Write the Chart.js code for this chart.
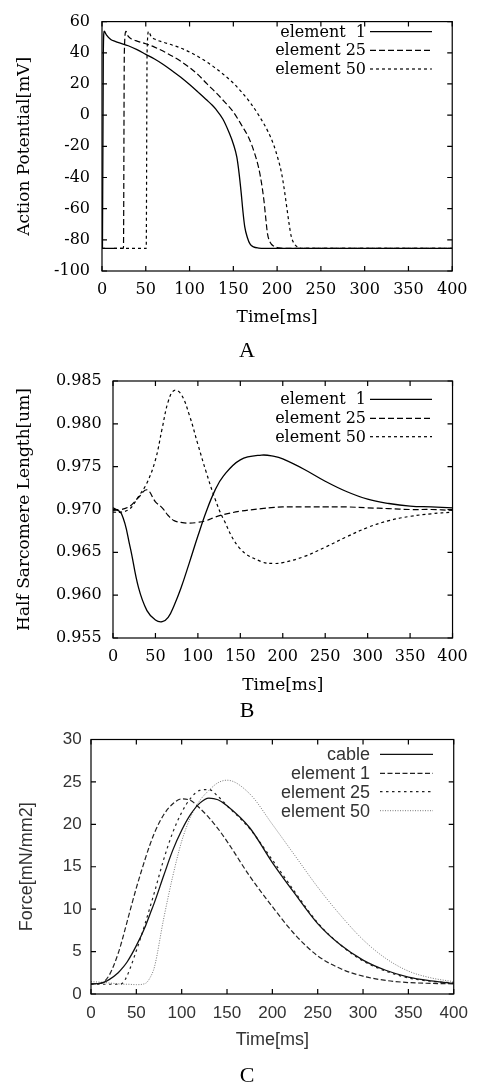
<!DOCTYPE html>
<html>
<head>
<meta charset="utf-8">
<title>Action potential, half sarcomere length and force</title>
<script src="https://cdn.jsdelivr.net/npm/chart.js@4.4.0/dist/chart.umd.min.js"></script>
<style>
  html, body { margin: 0; padding: 0; background: #fff; }
  #page { position: relative; width: 477px; height: 1087px; overflow: hidden; background: #fff; }
  #page canvas { position: absolute; left: 0; }
  .tag { position: absolute; font-family: "Liberation Serif", serif; font-size: 22px; color: #000;
         transform: translate(-50%, -50%); line-height: 1; }
</style>
</head>
<body>
<div id="page">
  <canvas id="chartA" width="477" height="335" style="top:0px"></canvas>
  <canvas id="chartB" width="477" height="340" style="top:360px"></canvas>
  <canvas id="chartC" width="477" height="340" style="top:720px"></canvas>
  <div class="tag" style="left:247px;top:350px">A</div>
  <div class="tag" style="left:247px;top:710px">B</div>
  <div class="tag" style="left:247px;top:1075px">C</div>
</div>
<script>
// Panel A - action potential [mV]
const tA1 = [0, 0.5, 1.5, 2.5, 5, 10, 15, 20, 30, 40, 50, 60, 70, 80, 90, 100, 110, 120, 126, 130, 138, 145, 150, 154, 156.5, 159, 161, 163, 166, 169, 173, 179, 186, 400];
const vA1 = [-85.5, -85.5, 40, 53.8, 51.5, 48.5, 47.3, 46.3, 44.5, 42, 39, 36, 32.5, 28.5, 24.3, 19.6, 14.6, 9.5, 6.3, 3.8, -2.5, -11, -18.5, -27, -37, -50, -62, -71.5, -78.5, -82.6, -84.5, -85.3, -85.5, -85.5];
const tA25 = [0, 24.5, 25.5, 27.3, 30, 34, 40, 50, 60, 75, 90, 100, 110, 120, 130, 140, 150, 160, 168, 174, 179, 182, 185, 187, 189, 192, 196, 202, 210, 400];
const vA25 = [-85.5, -85.5, 40, 53.8, 50.5, 48.8, 47.5, 45.8, 43.6, 39.5, 34.5, 30.5, 25.8, 20, 14.5, 8.5, 2, -7, -15, -24, -34, -43, -55, -66, -76, -81.5, -84, -85.2, -85.5, -85.5];
const tA50 = [0, 50.5, 51.5, 53.3, 56, 60, 70, 80, 90, 100, 110, 120, 130, 140, 150, 160, 170, 180, 190, 196, 201, 205, 208, 211, 213.5, 216, 219, 223, 230, 400];
const vA50 = [-85.5, -85.5, 40, 53.8, 50.5, 48.8, 46.8, 45, 43, 40.5, 37.5, 34, 30, 25.5, 20.5, 14.5, 7.5, -1, -11, -19, -28, -37, -47, -59, -69, -77.5, -82, -84.5, -85.5, -85.5];

// Panel B - half sarcomere length [um]
const tB = [0, 10, 20, 30, 40, 50, 58, 65, 72, 80, 90, 100, 110, 120, 130, 150, 175, 190, 200, 225, 250, 275, 300, 325, 350, 375, 400];
const sB1 = [0.9702, 0.9695, 0.9657, 0.9609, 0.9582, 0.9571, 0.9569, 0.9574, 0.9588, 0.9608, 0.9638, 0.9669, 0.9698, 0.9722, 0.9739, 0.9758, 0.97635, 0.9762, 0.9759, 0.9747, 0.9733, 0.9721, 0.9712, 0.9707, 0.9704, 0.9703, 0.9702];
const sB25 = [0.9699, 0.9700, 0.9704, 0.9714, 0.9723, 0.9709, 0.9702, 0.9693, 0.9687, 0.9685, 0.9684, 0.9685, 0.9687, 0.9691, 0.9694, 0.9698, 0.9701, 0.97025, 0.9703, 0.9703, 0.9703, 0.9703, 0.9702, 0.9701, 0.9700, 0.9700, 0.9699];
const sB50 = [0.9697, 0.9697, 0.9701, 0.9715, 0.9731, 0.9758, 0.9795, 0.9826, 0.9839, 0.9835, 0.9810, 0.9776, 0.9743, 0.9713, 0.9689, 0.9654, 0.9639, 0.9637, 0.9638, 0.9645, 0.9656, 0.9668, 0.9679, 0.9687, 0.9692, 0.9695, 0.9697];

// Panel C - force [mN/mm2]
const tC = [0, 10, 20, 30, 35, 40, 50, 60, 65, 70, 80, 90, 100, 110, 120, 130, 140, 150, 175, 200, 225, 250, 275, 300, 325, 350, 375, 400];
const fCable = [1.2, 1.25, 1.7, 2.5, 3.1, 3.8, 5.7, 8.0, 9.4, 10.8, 13.9, 16.9, 19.3, 21.2, 22.5, 23.1, 22.9, 22.2, 19.6, 15.5, 11.8, 8.3, 5.8, 4.0, 2.8, 2.0, 1.55, 1.25];
const fC1 = [1.2, 1.25, 2.2, 4.8, 6.6, 8.6, 12.5, 16.0, 17.6, 19.0, 21.1, 22.4, 23.0, 22.8, 21.9, 20.8, 19.5, 18.0, 13.9, 10.3, 7.0, 4.5, 3.0, 2.1, 1.6, 1.35, 1.25, 1.2];
const fC25 = [1.15, 1.15, 1.15, 1.15, 1.3, 2.2, 5.1, 8.4, 10.2, 12.0, 15.8, 19.0, 21.4, 23.1, 24.0, 24.1, 23.3, 22.2, 19.5, 15.8, 12.0, 8.4, 5.8, 3.9, 2.7, 1.9, 1.5, 1.3];
const fC50 = [1.45, 1.4, 1.3, 1.2, 1.15, 1.15, 1.1, 1.25, 1.9, 3.2, 8.8, 13.8, 18.0, 20.9, 22.8, 24.0, 24.9, 25.2, 23.6, 20.0, 16.3, 12.6, 9.3, 6.4, 4.2, 2.7, 1.9, 1.45];

const pts = (ts, vs) => ts.map((t, i) => ({ x: t, y: vs[i] }));

// box frame with inward ticks on all four sides (gnuplot look)
const framePlugin = {
    id: 'frame',
    afterDatasetsDraw(chart, args, opts) {
        const { ctx, chartArea: a, scales: { x, y } } = chart;
        const len = opts.tickLength;
        ctx.save();
        ctx.strokeStyle = opts.color;
        ctx.lineWidth = 1.2;
        ctx.setLineDash([]);
        ctx.beginPath();
        x.ticks.forEach(t => {
            const px = x.getPixelForValue(t.value);
            ctx.moveTo(px, a.bottom); ctx.lineTo(px, a.bottom - len);
            ctx.moveTo(px, a.top); ctx.lineTo(px, a.top + len);
        });
        y.ticks.forEach(t => {
            const py = y.getPixelForValue(t.value);
            ctx.moveTo(a.left, py); ctx.lineTo(a.left + len, py);
            ctx.moveTo(a.right, py); ctx.lineTo(a.right - len, py);
        });
        ctx.stroke();
        ctx.strokeRect(a.left, a.top, a.right - a.left, a.bottom - a.top);
        ctx.restore();
    }
};

// key in the top right corner: label right aligned, sample line after it
const keyPlugin = {
    id: 'key',
    afterDatasetsDraw(chart, args, opts) {
        const { ctx } = chart;
        ctx.save();
        ctx.font = opts.font;
        ctx.fillStyle = opts.color;
        ctx.textAlign = 'right';
        ctx.textBaseline = 'middle';
        chart.data.datasets.forEach((ds, i) => {
            const y = opts.rows[i];
            ctx.fillText(ds.label, opts.textRight, y + 1);
            ctx.strokeStyle = ds.borderColor;
            ctx.lineWidth = ds.borderWidth;
            ctx.setLineDash(ds.borderDash || []);
            ctx.beginPath();
            ctx.moveTo(opts.lineStart, y);
            ctx.lineTo(opts.lineEnd, y);
            ctx.stroke();
        });
        ctx.restore();
    }
};

function makeChart(id, spec) {
    const canvas = document.getElementById(id);
    const W = canvas.width, H = canvas.height;
    const a = spec.area;
    const smooth = spec.smooth
        ? { cubicInterpolationMode: 'default', tension: 0.4 }
        : { cubicInterpolationMode: 'monotone' };
    return new Chart(canvas, {
        type: 'line',
        data: { datasets: spec.datasets },
        options: {
            responsive: false,
            animation: false,
            events: [],
            layout: { padding: { left: 0, top: a.top, right: W - a.right, bottom: 0 } },
            elements: {
                point: { radius: 0 },
                line: Object.assign({ fill: false }, smooth)
            },
            plugins: {
                legend: { display: false },
                tooltip: { enabled: false },
                frame: { color: '#000', tickLength: 5 },
                key: spec.key
            },
            scales: {
                x: {
                    type: 'linear',
                    min: 0,
                    max: 400,
                    grid: { display: false, drawTicks: false },
                    border: { display: false },
                    ticks: { stepSize: 50, padding: spec.xTickPad, font: spec.tickFont, color: spec.textColor, maxRotation: 0, autoSkip: false },
                    title: { display: true, text: 'Time[ms]', font: spec.titleFont, color: spec.textColor,
                             padding: { top: 0, bottom: spec.xTitlePad } },
                    afterFit: s => { s.height = H - a.bottom; }
                },
                y: {
                    type: 'linear',
                    min: spec.yMin,
                    max: spec.yMax,
                    grid: { display: false, drawTicks: false },
                    border: { display: false },
                    ticks: { stepSize: spec.yStep, padding: spec.yTickPad, font: spec.tickFont, color: spec.textColor,
                             autoSkip: false, callback: spec.yFormat },
                    title: { display: true, text: spec.yTitle, font: spec.titleFont, color: spec.textColor,
                             padding: { top: spec.yTitlePad, bottom: 0 } },
                    afterFit: s => { s.width = a.left; }
                }
            }
        },
        plugins: [framePlugin, keyPlugin]
    });
}

const serifTick = { family: 'DejaVu Serif', size: 16 };
const serifTitle = { family: 'DejaVu Serif', size: 17 };
const sansTick = { family: 'Liberation Sans', size: 17 };
const sansTitle = { family: 'Liberation Sans', size: 18 };

makeChart('chartA', {
    area: { left: 102, top: 14, right: 455, bottom: 271 },
    datasets: [
        { label: 'element  1', data: pts(tA1, vA1), borderColor: '#000', borderWidth: 1.3, borderDash: [] },
        { label: 'element 25', data: pts(tA25, vA25), borderColor: '#000', borderWidth: 1.2, borderDash: [6, 3] },
        { label: 'element 50', data: pts(tA50, vA50), borderColor: '#000', borderWidth: 1.2, borderDash: [3, 3] }
    ],
    yMin: -100, yMax: 60, yStep: 20,
    yTitle: 'Action Potential[mV]',
    tickFont: serifTick, titleFont: serifTitle, textColor: '#000',
    xTickPad: 9.5, xTitlePad: 6.8, yTickPad: 12, yTitlePad: 14.8,
    key: { font: '16px "DejaVu Serif"', color: '#000', textRight: 366, lineStart: 370, lineEnd: 432, rows: [31.7, 50.3, 69] }
});

makeChart('chartB', {
    area: { left: 113, top: 21, right: 455, bottom: 278 },
    smooth: true,
    datasets: [
        { label: 'element  1', data: pts(tB, sB1), borderColor: '#000', borderWidth: 1.3, borderDash: [] },
        { label: 'element 25', data: pts(tB, sB25), borderColor: '#000', borderWidth: 1.2, borderDash: [6, 3] },
        { label: 'element 50', data: pts(tB, sB50), borderColor: '#000', borderWidth: 1.2, borderDash: [3, 3] }
    ],
    yMin: 0.955, yMax: 0.985, yStep: 0.005,
    yFormat: v => v.toFixed(3),
    yTitle: 'Half Sarcomere Length[um]',
    tickFont: serifTick, titleFont: serifTitle, textColor: '#000',
    xTickPad: 9.2, xTitlePad: 3.8, yTickPad: 11.3, yTitlePad: 14.8,
    key: { font: '16px "DejaVu Serif"', color: '#000', textRight: 366, lineStart: 370, lineEnd: 432, rows: [39.3, 58.3, 76.7] }
});

makeChart('chartC', {
    area: { left: 91, top: 17, right: 455, bottom: 274 },
    datasets: [
        { label: 'cable', data: pts(tC, fCable), borderColor: '#111', borderWidth: 1.3, borderDash: [] },
        { label: 'element 1', data: pts(tC, fC1), borderColor: '#222', borderWidth: 1.2, borderDash: [5, 2.5] },
        { label: 'element 25', data: pts(tC, fC25), borderColor: '#222', borderWidth: 1.2, borderDash: [2.5, 3.5] },
        { label: 'element 50', data: pts(tC, fC50), borderColor: '#777', borderWidth: 1, borderDash: [1, 1.5] }
    ],
    yMin: 0, yMax: 30, yStep: 5,
    yTitle: 'Force[mN/mm2]',
    tickFont: sansTick, titleFont: sansTitle, textColor: '#333',
    xTickPad: 9.1, xTitlePad: 9.2, yTickPad: 9.3, yTitlePad: 15.9,
    key: { font: '18px "Liberation Sans"', color: '#333', textRight: 370, lineStart: 380, lineEnd: 433, rows: [34.3, 53.3, 71.7, 90.7] }
});
</script>
</body>
</html>
